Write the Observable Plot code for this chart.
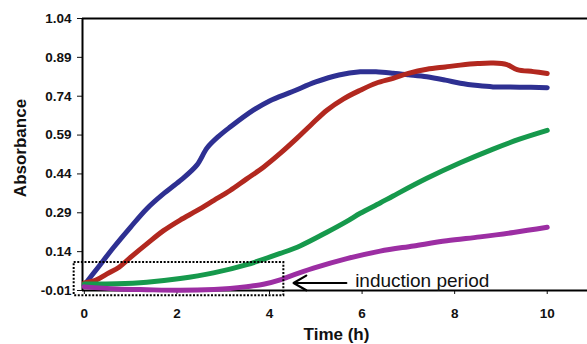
<!DOCTYPE html>
<html>
<head>
<meta charset="utf-8">
<script src="https://cdn.jsdelivr.net/npm/d3@7"></script>
<script src="https://cdn.jsdelivr.net/npm/@observablehq/plot@0.6"></script>
<style>
  html, body { margin: 0; padding: 0; background: #fff; }
  #chart svg { display: block; }
</style>
</head>
<body>
<div id="chart"></div>
<script>
// ---- data ----
const timeBlue = [0, 0.3, 0.63, 1.0, 1.35, 1.7, 2.07, 2.43, 2.65, 2.9, 3.15, 3.65, 4.0, 4.5, 5.0, 5.5, 5.96, 6.3, 6.67, 7.0, 7.4, 7.8, 8.12, 8.5, 8.83, 9.4, 10.0];
const absBlue  = [0.011, 0.08, 0.156, 0.235, 0.306, 0.362, 0.414, 0.474, 0.54, 0.585, 0.621, 0.686, 0.722, 0.758, 0.795, 0.822, 0.834, 0.834, 0.829, 0.823, 0.815, 0.802, 0.79, 0.781, 0.776, 0.775, 0.773];

const timeRed = [0, 0.25, 0.49, 0.75, 0.99, 1.35, 1.71, 2.07, 2.43, 2.8, 3.15, 3.5, 3.87, 4.23, 4.59, 4.9, 5.24, 5.6, 5.96, 6.3, 6.67, 7.0, 7.4, 7.8, 8.12, 8.5, 8.83, 9.13, 9.35, 9.7, 10.0];
const absRed  = [0.019, 0.03, 0.054, 0.08, 0.117, 0.17, 0.221, 0.262, 0.298, 0.338, 0.376, 0.42, 0.466, 0.519, 0.577, 0.63, 0.686, 0.73, 0.763, 0.79, 0.809, 0.828, 0.844, 0.853, 0.86, 0.866, 0.868, 0.862, 0.843, 0.835, 0.828];

const timeGreen = [0, 0.7, 1.35, 2.07, 2.79, 3.51, 4.23, 4.67, 5.24, 5.67, 5.96, 6.39, 6.67, 7.4, 8.12, 8.83, 9.4, 10.0];
const absGreen  = [0.015, 0.016, 0.022, 0.036, 0.058, 0.09, 0.133, 0.163, 0.215, 0.257, 0.288, 0.328, 0.355, 0.423, 0.483, 0.536, 0.574, 0.608];

const timePurple = [0, 0.7, 1.35, 2.07, 2.8, 3.15, 3.51, 3.87, 4.23, 4.38, 4.95, 5.67, 6.39, 7.11, 7.83, 8.55, 9.27, 10.0];
const absPurple  = [0.004, -0.004, -0.007, -0.009, -0.006, -0.002, 0.005, 0.014, 0.031, 0.041, 0.076, 0.113, 0.142, 0.162, 0.182, 0.197, 0.214, 0.234];

const seriesNames  = ["Series 1", "Series 2", "Series 3", "Series 4"];
const seriesColors = ["#2e3092", "#b2281f", "#16994c", "#9c2ea3"];

const yTicks = [-0.01, 0.14, 0.29, 0.44, 0.59, 0.74, 0.89, 1.04];
const yTickLabels = ["-0.01", "0.14", "0.29", "0.44", "0.59", "0.74", "0.89", "1.04"];
const xTicks = [0, 2, 4, 6, 8, 10];
const xTickLabels = ["0", "2", "4", "6", "8", "10"];

const xLabel = "Time (h)";
const yLabel = "Absorbance";

// induction period annotation (data coordinates)
const inductionBox = [{x1: -0.22, x2: 4.31, y1: -0.03, y2: 0.098}];
const inductionArrow = [{x1: 5.66, x2: 4.52, y: 0.019}];
const inductionText = [{x: 5.85, y: 0.026, text: "induction period"}];

// ---- build table ----
const seriesTimes = [timeBlue, timeRed, timeGreen, timePurple];
const seriesAbs = [absBlue, absRed, absGreen, absPurple];
const rows = seriesNames.flatMap((name, i) =>
  seriesTimes[i].map((t, j) => ({series: name, time: t, abs: seriesAbs[i][j]}))
);

const chart = Plot.plot({
  width: 587,
  height: 344,
  marginLeft: 82,
  marginRight: 0,
  marginTop: 18,
  marginBottom: 54,
  style: {fontFamily: "'Liberation Sans', Arial, sans-serif", fontWeight: "bold", fontSize: "13.5px", color: "#111", background: "transparent"},
  x: {
    domain: [-0.04, 10.87],
    ticks: xTicks,
    tickFormat: d => xTickLabels[xTicks.indexOf(d)],
    tickSize: 4,
    tickPadding: 14,
    label: null
  },
  y: {
    domain: [-0.01, 1.04],
    ticks: yTicks,
    tickFormat: d => yTickLabels[yTicks.findIndex(v => Math.abs(v - d) < 1e-9)],
    tickSize: 5,
    tickPadding: 6,
    label: null
  },
  color: {type: "ordinal", domain: seriesNames, range: seriesColors},
  marks: [
    Plot.ruleY([1.04], {stroke: "#000", strokeWidth: 2}),
    Plot.ruleY([-0.01], {stroke: "#000", strokeWidth: 2}),
    Plot.ruleX([-0.04], {stroke: "#000", strokeWidth: 2}),
    Plot.line(rows, {x: "time", y: "abs", z: "series", stroke: "series", strokeWidth: 5, curve: "catmull-rom", strokeLinejoin: "round", strokeLinecap: "round"}),
    Plot.rect(inductionBox, {x1: "x1", x2: "x2", y1: "y1", y2: "y2", fill: "none", stroke: "#000", strokeWidth: 2, strokeDasharray: "2,1.6"}),
    Plot.arrow(inductionArrow, {x1: "x1", x2: "x2", y1: "y", y2: "y", stroke: "#000", strokeWidth: 2.2, headLength: 10}),
    Plot.text(inductionText, {x: "x", y: "y", text: "text", textAnchor: "start", lineAnchor: "middle", fontSize: 19, fontWeight: "normal", fill: "#111"}),
    Plot.text([yLabel], {frameAnchor: "left", rotate: -90, dx: -61.5, dy: -6.5, fontSize: 17, fontWeight: "bold", fill: "#111", textAnchor: "middle", lineAnchor: "middle"}),
    Plot.text([xLabel], {frameAnchor: "bottom", dx: 1.5, dy: 44, fontSize: 17, fontWeight: "bold", fill: "#111", textAnchor: "middle", lineAnchor: "middle"})
  ]
});
document.getElementById("chart").appendChild(chart);
</script>
</body>
</html>
